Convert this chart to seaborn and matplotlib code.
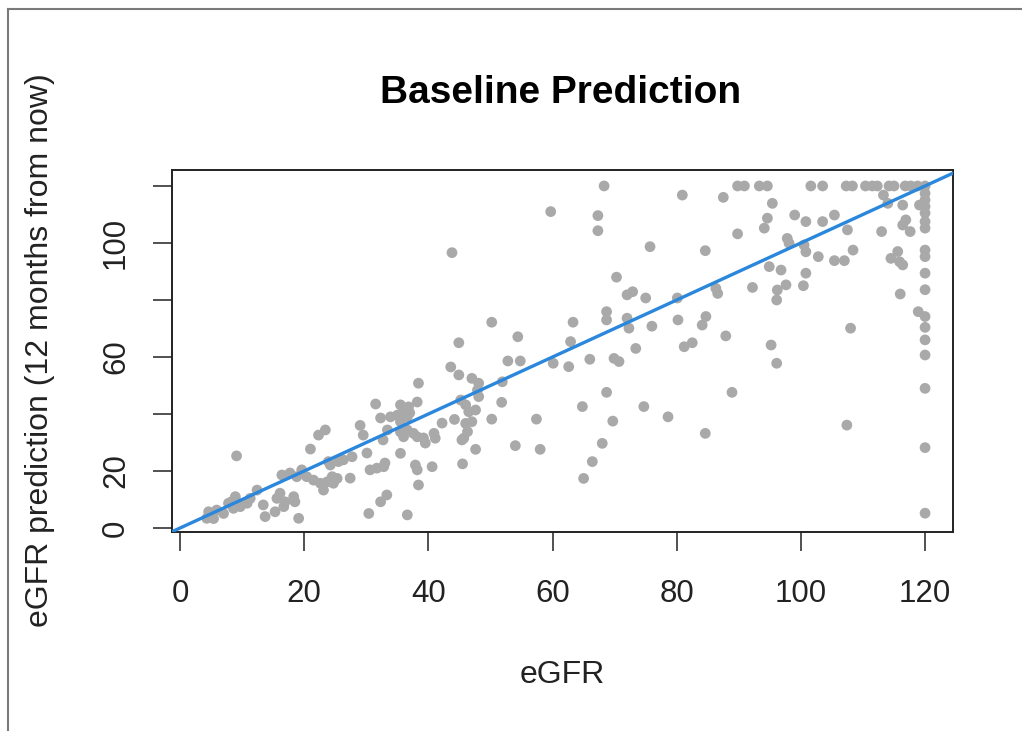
import numpy as np
import pandas as pd
import matplotlib
matplotlib.use("Agg")
import matplotlib.pyplot as plt
from matplotlib.lines import Line2D
import seaborn as sns

# ---- data ----
egfr_low = [31.5, 32.3, 33.9, 35.0, 29.0, 23.4, 22.3, 29.5, 33.4, 32.7, 21.0, 9.1, 30.1, 27.7,
            26.3, 25.5, 23.9, 24.2, 16.4, 17.7, 19.6, 18.8, 20.4, 21.5, 22.6, 23.7, 24.5, 25.3,
            24.7, 23.1, 27.4, 30.6, 31.7, 32.8, 33.0, 33.3, 32.3, 30.4, 18.5, 18.3, 16.9, 16.7,
            19.1, 16.1, 15.6, 15.3, 13.7, 13.4, 12.4, 11.3, 10.8, 9.7, 9.1, 8.9, 8.3, 7.8, 8.6,
            7.0, 5.9, 5.1, 4.6, 4.3, 5.4]
pred_low = [43.5, 38.6, 39.0, 39.6, 36.0, 34.4, 32.6, 32.6, 34.4, 30.9, 27.7, 25.3, 26.3, 25.0,
            23.9, 23.3, 23.3, 22.1, 18.6, 19.3, 20.4, 18.0, 18.0, 16.8, 15.7, 16.2, 18.0, 17.4,
            15.7, 13.3, 17.5, 20.4, 21.0, 21.5, 22.8, 11.6, 9.2, 5.1, 9.2, 11.0, 9.2, 7.5,
            3.4, 12.2, 10.4, 5.7, 4.0, 8.1, 13.3, 10.4, 8.7, 7.5, 9.2, 11.0, 9.2, 8.7, 6.9,
            5.1, 6.3, 4.6, 5.7, 3.4, 3.3]

egfr_mid = [35.5, 36.8, 38.2, 36.0, 37.0, 36.6, 35.5, 36.6, 35.5, 36.0, 37.6, 38.2, 39.2, 39.5,
            40.9, 41.1, 42.2, 35.5, 37.9, 38.2, 40.6, 38.4, 36.6, 38.4, 43.6,
            43.8, 68.3, 59.7, 67.3, 67.3, 75.7, 70.3, 72.0, 72.9, 75.0, 80.1, 80.2, 81.2, 68.7,
            68.7, 72.0, 72.3, 76.0, 73.4, 63.3, 62.9, 66.0, 69.9, 70.7, 62.6, 60.1, 50.2, 54.4,
            44.9, 52.8, 54.8, 44.9, 47.0, 48.1, 47.9, 48.1, 51.9, 45.2, 46.0, 46.5, 47.6, 47.0,
            46.0, 46.3, 45.7, 45.4, 44.2, 50.2, 51.8, 47.6, 45.5, 54.0, 58.0, 57.4, 64.8, 68.7,
            69.7, 68.0, 66.4, 65.0, 74.7, 78.6]
pred_mid = [43.2, 42.5, 44.2, 40.7, 40.4, 39.0, 37.3, 34.4, 33.7, 32.0, 33.2, 32.0, 31.6, 29.8,
            33.2, 31.5, 36.8, 26.2, 22.1, 20.4, 21.5, 15.1, 4.6, 50.8, 56.5,
            96.6, 120.0, 111.0, 109.6, 104.3, 98.7, 88.0, 81.8, 82.9, 80.7, 80.7, 73.0, 63.6, 75.9,
            73.0, 73.6, 70.1, 70.8, 63.0, 72.2, 65.4, 59.2, 59.5, 58.4, 56.6, 57.8, 72.2, 67.1,
            65.0, 58.6, 58.6, 53.7, 52.5, 50.8, 48.4, 46.1, 51.3, 44.9, 43.2, 40.8, 41.4, 37.3,
            36.7, 33.8, 31.5, 30.9, 38.1, 38.2, 44.1, 27.6, 22.5, 28.9, 27.6, 38.2, 42.6, 47.6,
            37.5, 29.7, 23.3, 17.4, 42.6, 39.0]

egfr_high = [89.8, 90.9, 93.3, 94.6, 101.6, 103.5, 107.3, 108.3, 110.4, 111.5, 112.3, 114.2,
             115.0, 116.8, 117.7, 118.8, 120.0,
             120.0, 120.0, 120.0, 120.0, 120.0, 120.0, 120.0, 120.0, 120.0, 120.0, 120.0, 120.0,
             120.0, 120.0, 120.0, 120.0, 120.0,
             119.1, 118.9, 113.3, 114.0, 116.4, 116.9, 116.4, 117.6, 113.0, 80.9, 87.5, 95.4,
             94.6, 94.1, 89.8, 99.0, 100.8, 103.5, 105.4, 107.5, 97.8, 98.1, 100.5, 100.8, 102.8,
             105.4, 107.0, 108.4, 84.6, 94.9, 96.8, 100.8, 92.2, 96.2, 97.6, 96.1, 100.4, 114.5,
             115.6, 115.9, 116.4, 116.0, 108.0, 86.3, 86.6, 84.7, 84.1, 87.9, 82.5, 95.2, 96.1,
             107.4, 88.9, 84.6]
pred_high = [120.0, 120.0, 120.0, 120.0, 120.0, 120.0, 120.0, 120.0, 120.0, 120.0, 120.0, 120.0,
             120.0, 120.0, 120.0, 120.0, 120.0,
             117.4, 115.1, 112.8, 110.5, 107.5, 105.2, 97.5, 95.2, 89.4, 83.6, 74.2, 70.4,
             66.0, 60.7, 49.0, 28.2, 5.2,
             113.3, 75.9, 116.8, 113.9, 113.3, 108.1, 106.3, 104.0, 104.0, 116.8, 116.0, 113.9,
             108.7, 105.2, 103.2, 109.8, 107.5, 107.5, 109.8, 104.6, 101.6, 99.9, 99.3, 96.9, 95.2,
             93.8, 93.8, 97.5, 97.3, 91.7, 90.5, 89.4, 84.4, 83.5, 85.3, 80.0, 85.0, 94.6,
             97.0, 93.4, 92.3, 82.1, 70.1, 84.1, 82.3, 74.2, 71.2, 67.4, 65.0, 64.2, 57.8,
             36.1, 47.6, 33.2]

x_ticks = [0, 20, 40, 60, 80, 100, 120]
x_tick_labels = ["0", "20", "40", "60", "80", "100", "120"]
y_ticks = [0, 20, 40, 60, 80, 100, 120]
y_tick_labels = ["0", "20", "", "60", "", "100", ""]

df = pd.DataFrame({
    "eGFR": egfr_low + egfr_mid + egfr_high,
    "pred": pred_low + pred_mid + pred_high,
})

# ---- figure ----
plt.rcParams["font.family"] = ["Liberation Sans", "DejaVu Sans"]
W, H = 1022, 731
fig = plt.figure(figsize=(W / 100, H / 100), dpi=100)
fig.patch.set_facecolor("white")
ax = fig.add_axes([172 / W, 1 - 532 / H, (953 - 172) / W, (532 - 170) / H])

sns.scatterplot(data=df, x="eGFR", y="pred", ax=ax, color="#A9A9A9",
                s=60, edgecolor="none", linewidth=0, zorder=2)
ax.axline((0, 0), slope=1, color="#2a87dc", lw=2.4, zorder=3)

ax.set_xlim(-1.3, 124.5)
ax.set_ylim(-1.4, 125.6)
ax.set_xticks(x_ticks)
ax.set_xticklabels(x_tick_labels)
ax.set_yticks(y_ticks)
ax.set_yticklabels(y_tick_labels, rotation=90, va="center")
ax.tick_params(axis="both", direction="out", length=13.5, width=1.1, color="#222222",
               labelsize=22.5, labelcolor="#222222")
ax.tick_params(axis="x", pad=20)
ax.tick_params(axis="y", pad=16)
ax.set_xlabel("")
ax.set_ylabel("")
for sp in ax.spines.values():
    sp.set_linewidth(1.4)
    sp.set_color("#222222")

fig.text(561 / W, 1 - 93 / H, "Baseline Prediction", ha="center", va="center",
         fontsize=28, fontweight="bold", color="black")
fig.text(562 / W, 1 - 675 / H, "eGFR", ha="center", va="center", fontsize=23,
         color="#222222")
fig.text(40 / W, 1 - 350 / H, "eGFR prediction (12 months from now)", ha="center",
         va="center", rotation=90, fontsize=23, color="#222222")

# outer frame (left and top edges of the screenshot)
fig.add_artist(Line2D([8 / W, 8 / W], [0, 1 - 9 / H], transform=fig.transFigure,
                      color="#7a7a7a", lw=1.5))
fig.add_artist(Line2D([8 / W, 1], [1 - 9 / H, 1 - 9 / H], transform=fig.transFigure,
                      color="#7a7a7a", lw=1.5))

fig.savefig("out.png", dpi=100)
